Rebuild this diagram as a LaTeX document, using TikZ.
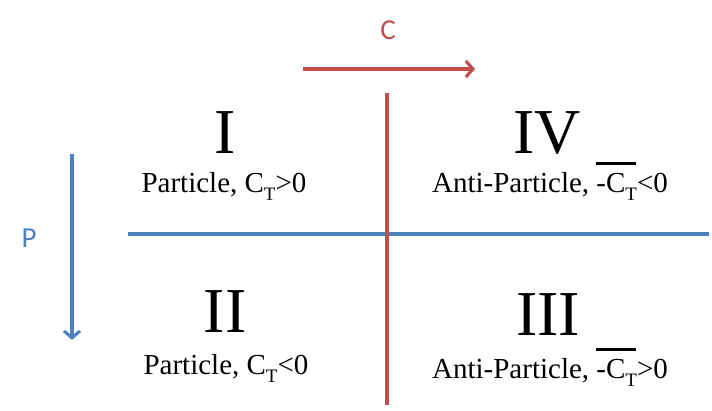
\documentclass[tikz,border=0pt]{standalone}
\usepackage{fontspec}
\setmainfont{Liberation Serif}
\newfontfamily\calibfont{Carlito}
\usetikzlibrary{arrows.meta}
\definecolor{cred}{HTML}{C0504D}
\definecolor{cblue}{HTML}{4F81BD}
\tikzset{
  quad/.style={anchor=base,font=\fontsize{64}{64}\selectfont,inner sep=0pt},
  lab/.style={anchor=base,font=\fontsize{29}{32}\selectfont,inner sep=0pt},
  axlbl/.style={font=\calibfont\fontsize{29}{30}\selectfont,inner sep=0pt},
  redline/.style={draw=cred,line width=3.2pt},
  blueline/.style={draw=cblue,line width=3.2pt},
  barb/.style={-{Straight Barb[length=7pt,width=16pt]}},
}
\newcommand{\ctbar}{\makebox[0pt][l]{\raisebox{0.93em}{\rule{1.35em}{3pt}}}}
\newcommand{\tsub}{\raisebox{-0.28em}{\fontsize{19}{19}\selectfont T}}

\begin{document}
\begin{tikzpicture}[x=1pt,y=-1pt]
\useasboundingbox (0,0) rectangle (712,410);
% axes
\coordinate (hl) at (128,234);
\coordinate (hr) at (709,234);
\coordinate (vtop) at (387,93);
\coordinate (vbot) at (387,405);
\draw[blueline] (hl) -- (hr);
\draw[redline] (vtop) -- (vbot);
% C and P arrows
\coordinate (cs) at (303,69);
\coordinate (ce) at (475,69);
\draw[redline,barb] (cs) -- (ce);
\node[axlbl,text=cred] (c) at (388,30) {C};
\coordinate (ps) at (72,154);
\coordinate (pe) at (72,340);
\draw[blueline,barb] (ps) -- (pe);
\node[axlbl,text=cblue] (p) at (29,238) {P};
% quadrants
\node[quad] (q1) at (225,153) {I};
\node[lab] (l1) at (224,192) {Particle, C\tsub>0};
\node[quad] (q4) at (547,153) {IV};
\node[lab] (l4) at (550,192) {Anti-Particle, \ctbar-C\tsub<0};
\node[quad] (q2) at (225,332) {II};
\node[lab] (l2) at (226,374) {Particle, C\tsub<0};
\node[quad] (q3) at (548,335) {III};
\node[lab] (l3) at (550,378) {Anti-Particle, \ctbar-C\tsub>0};
\end{tikzpicture}
\end{document}
